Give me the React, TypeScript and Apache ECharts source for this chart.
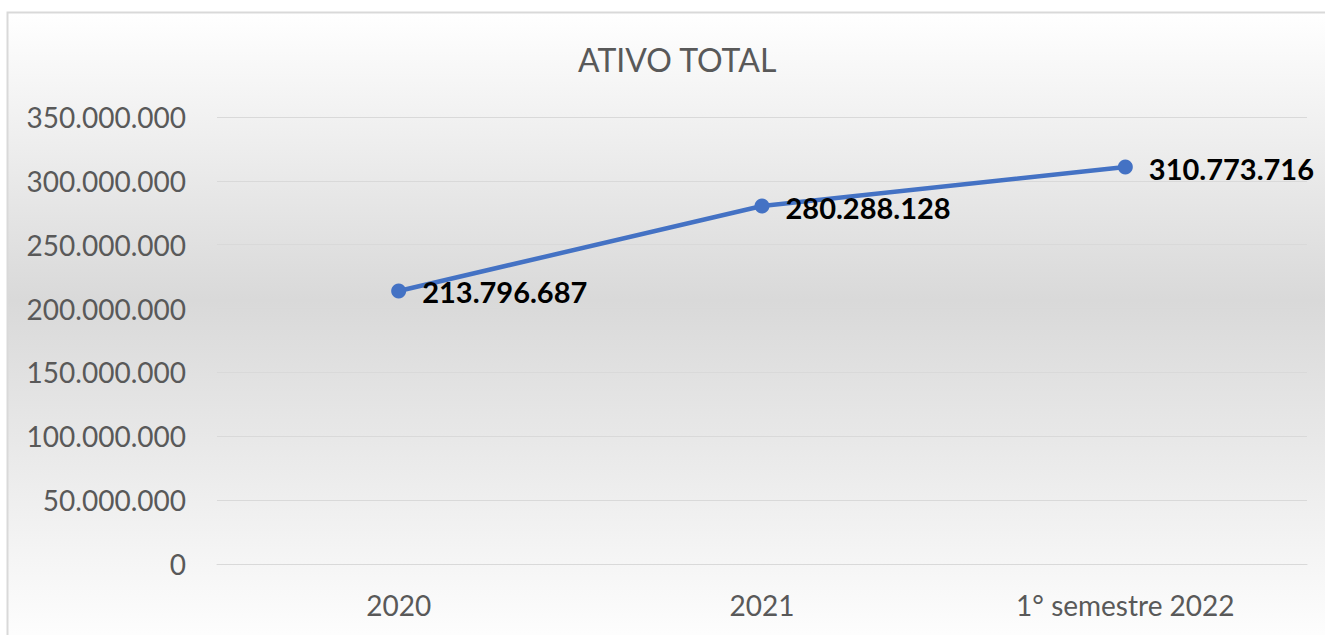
import React, { useEffect, useRef } from "react";
import * as echarts from "echarts";

const categories = ["2020", "2021", "1° semestre 2022"];
const ativoTotal = [213796687, 280288128, 310773716];
const yTicks = [0, 50000000, 100000000, 150000000, 200000000, 250000000, 300000000, 350000000];

const fmt = (v: number) => String(Math.round(v)).replace(/\B(?=(\d{3})+(?!\d))/g, ".");

export default function App() {
  const ref = useRef<HTMLDivElement>(null);
  useEffect(() => {
    document.body.style.margin = "0";
    const chart = echarts.init(ref.current!, undefined, { renderer: "svg" });
    chart.setOption({
      animation: false,
      backgroundColor: "#ffffff",
      graphic: [
        {
          type: "rect",
          z: -10,
          silent: true,
          shape: { x: 7.5, y: 12.5, width: 1330, height: 640 },
          style: {
            fill: new echarts.graphic.LinearGradient(0, 0, 0, 1, [
              { offset: 0, color: "#ffffff" },
              { offset: 0.45, color: "#d9d9d9" },
              { offset: 1, color: "#ffffff" },
            ]),
            stroke: "#d9d9d9",
            lineWidth: 2,
          },
        },
      ],
      title: {
        text: "ATIVO TOTAL",
        left: 573,
        top: 38,
        textStyle: { fontFamily: "Lato", fontSize: 32, fontWeight: "normal", color: "#595959" },
      },
      grid: { left: 217, right: 18, top: 117, bottom: 71, containLabel: false },
      xAxis: {
        type: "category",
        data: categories,
        axisLine: { lineStyle: { color: "#d9d9d9" } },
        axisTick: { show: false },
        axisLabel: { color: "#595959", fontFamily: "Lato", fontSize: 28, margin: 27 },
      },
      yAxis: {
        type: "value",
        min: 0,
        max: yTicks[yTicks.length - 1],
        interval: yTicks[1] - yTicks[0],
        axisLine: { show: false },
        axisTick: { show: false },
        splitLine: { lineStyle: { color: "#d9d9d9", width: 1 } },
        axisLabel: { color: "#595959", fontFamily: "Lato", fontSize: 28, margin: 31, formatter: (v: number) => fmt(v) },
      },
      series: [
        {
          type: "line",
          data: ativoTotal,
          lineStyle: { color: "#4472c4", width: 4.5 },
          itemStyle: { color: "#4472c4" },
          symbol: "circle",
          symbolSize: 15,
          label: {
            show: true,
            position: "right",
            distance: 16,
            offset: [0, 1],
            color: "#000000",
            fontFamily: "Lato",
            fontWeight: "bold",
            fontSize: 29,
            formatter: (p: any) => fmt(p.value),
          },
        },
      ],
    });
    return () => chart.dispose();
  }, []);
  return <div ref={ref} style={{ width: 1325, height: 635 }} />;
}
